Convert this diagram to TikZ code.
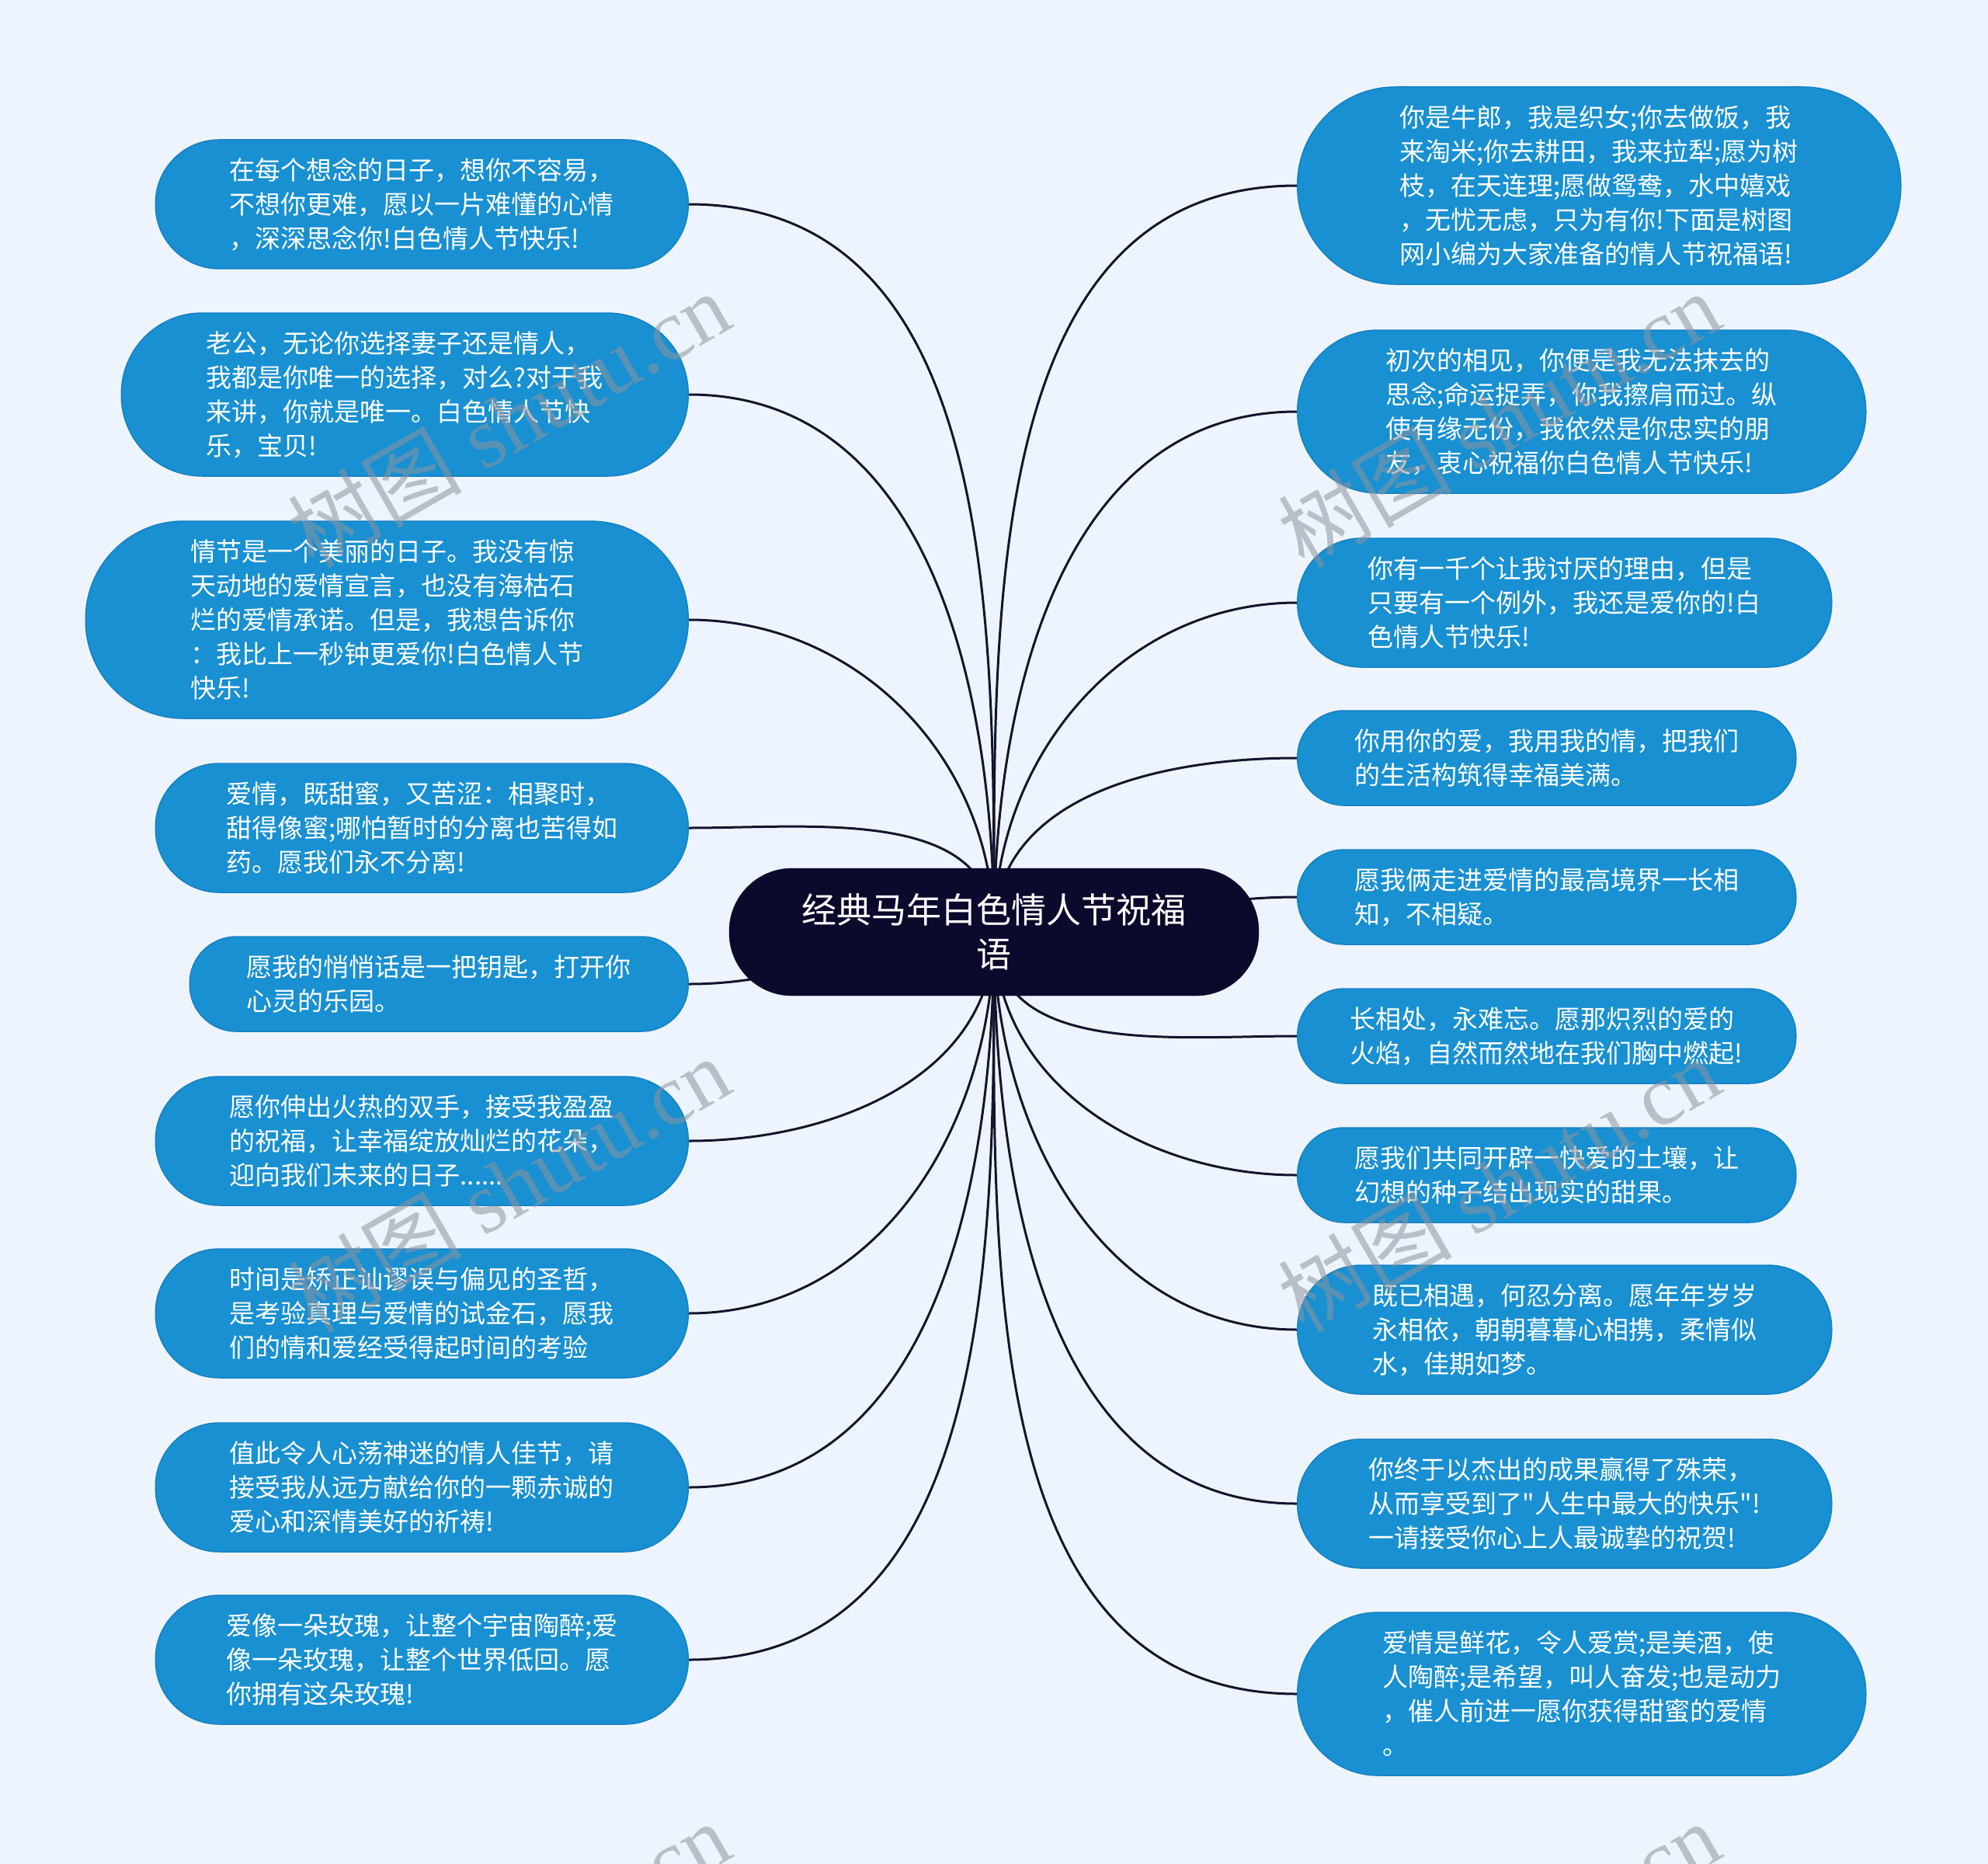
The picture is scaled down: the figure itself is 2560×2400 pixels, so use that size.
\documentclass[tikz,border=0pt]{standalone}
\usepackage{fontspec}
\newfontfamily\cjk{Noto Sans CJK SC}
\newfontfamily\stampserif{Liberation Serif}
\usetikzlibrary{backgrounds}

\definecolor{paper}{HTML}{EEF4FD}
\definecolor{leafblue}{HTML}{1890D2}
\definecolor{leafline}{HTML}{1581C2}
\definecolor{rootnavy}{HTML}{0B0A2C}
\definecolor{wirecol}{HTML}{14142C}
\definecolor{stampgray}{HTML}{8E949E}

\tikzset{
  leaf/.style={rectangle, fill=leafblue, draw=leafline, line width=1.5pt,
    text=white, font=\cjk\fontsize{33}{44}\selectfont, align=left,
    inner xsep=20pt, inner ysep=4pt},
  rows/.style={minimum height={44pt*#1+34pt}, rounded corners={22pt*#1+16pt}},
  root/.style={rectangle, fill=rootnavy, draw=rootnavy, rounded corners=81pt,
    text=white, font=\cjk\fontsize{45}{57}\selectfont, align=center,
    minimum width=682pt, minimum height=164pt, inner sep=0pt},
  link/.style={draw=wirecol, line width=3pt},
  stamp/.style={text=stampgray, text opacity=0.55, rotate=30,
    font=\stampserif\fontsize{112}{112}\selectfont, inner sep=0pt}
}

\begin{document}
\begin{tikzpicture}[x=1pt,y=-1pt]
  \useasboundingbox (0,0) rectangle (2560,2400);
  \begin{scope}[on background layer]
    \fill[paper] (0,0) rectangle (2560,2400);
  \end{scope}

  % central topic
  \coordinate (hub) at (1280,1200);
  \node[root] (root) at (hub) {经典马年白色情人节祝福\\语};

  % left branch
  \node[leaf, rows=3, minimum width=686pt, anchor=east] (l1) at (887,263)
    {在每个想念的日子，想你不容易，\\不想你更难，愿以一片难懂的心情\\，深深思念你!白色情人节快乐!};
  \node[leaf, rows=4, minimum width=730pt, anchor=east] (l2) at (887,508)
    {老公，无论你选择妻子还是情人，\\我都是你唯一的选择，对么?对于我\\来讲，你就是唯一。白色情人节快\\乐，宝贝!};
  \node[leaf, rows=5, minimum width=776pt, anchor=east] (l3) at (887,798)
    {情节是一个美丽的日子。我没有惊\\天动地的爱情宣言，也没有海枯石\\烂的爱情承诺。但是，我想告诉你\\：我比上一秒钟更爱你!白色情人节\\快乐!};
  \node[leaf, rows=3, minimum width=686pt, anchor=east] (l4) at (887,1066)
    {爱情，既甜蜜，又苦涩：相聚时，\\甜得像蜜;哪怕暂时的分离也苦得如\\药。愿我们永不分离!};
  \node[leaf, rows=2, minimum width=642pt, anchor=east] (l5) at (887,1267)
    {愿我的悄悄话是一把钥匙，打开你\\心灵的乐园。};
  \node[leaf, rows=3, minimum width=686pt, anchor=east] (l6) at (887,1469)
    {愿你伸出火热的双手，接受我盈盈\\的祝福，让幸福绽放灿烂的花朵，\\迎向我们未来的日子......};
  \node[leaf, rows=3, minimum width=686pt, anchor=east] (l7) at (887,1691)
    {时间是矫正讪谬误与偏见的圣哲，\\是考验真理与爱情的试金石，愿我\\们的情和爱经受得起时间的考验};
  \node[leaf, rows=3, minimum width=686pt, anchor=east] (l8) at (887,1915)
    {值此令人心荡神迷的情人佳节，请\\接受我从远方献给你的一颗赤诚的\\爱心和深情美好的祈祷!};
  \node[leaf, rows=3, minimum width=686pt, anchor=east] (l9) at (887,2137)
    {爱像一朵玫瑰，让整个宇宙陶醉;爱\\像一朵玫瑰，让整个世界低回。愿\\你拥有这朵玫瑰!};

  % right branch
  \node[leaf, rows=5, minimum width=777pt, anchor=west] (r1) at (1670,239)
    {你是牛郎，我是织女;你去做饭，我\\来淘米;你去耕田，我来拉犁;愿为树\\枝，在天连理;愿做鸳鸯，水中嬉戏\\，无忧无虑，只为有你!下面是树图\\网小编为大家准备的情人节祝福语!};
  \node[leaf, rows=4, minimum width=732pt, anchor=west] (r2) at (1670,530)
    {初次的相见，你便是我无法抹去的\\思念;命运捉弄，你我擦肩而过。纵\\使有缘无份，我依然是你忠实的朋\\友，衷心祝福你白色情人节快乐!};
  \node[leaf, rows=3, minimum width=688pt, anchor=west] (r3) at (1670,776)
    {你有一千个让我讨厌的理由，但是\\只要有一个例外，我还是爱你的!白\\色情人节快乐!};
  \node[leaf, rows=2, minimum width=642pt, anchor=west] (r4) at (1670,976)
    {你用你的爱，我用我的情，把我们\\的生活构筑得幸福美满。};
  \node[leaf, rows=2, minimum width=642pt, anchor=west] (r5) at (1670,1155)
    {愿我俩走进爱情的最高境界一长相\\知，不相疑。};
  \node[leaf, rows=2, minimum width=642pt, anchor=west] (r6) at (1670,1334)
    {长相处，永难忘。愿那炽烈的爱的\\火焰，自然而然地在我们胸中燃起!};
  \node[leaf, rows=2, minimum width=642pt, anchor=west] (r7) at (1670,1513)
    {愿我们共同开辟一快爱的土壤，让\\幻想的种子结出现实的甜果。};
  \node[leaf, rows=3, minimum width=688pt, anchor=west] (r8) at (1670,1712)
    {既已相遇，何忍分离。愿年年岁岁\\永相依，朝朝暮暮心相携，柔情似\\水，佳期如梦。};
  \node[leaf, rows=3, minimum width=688pt, anchor=west] (r9) at (1670,1936)
    {你终于以杰出的成果赢得了殊荣，\\从而享受到了"人生中最大的快乐"!\\一请接受你心上人最诚挚的祝贺!};
  \node[leaf, rows=4, minimum width=732pt, anchor=west] (r10) at (1670,2181)
    {爱情是鲜花，令人爱赏;是美酒，使\\人陶醉;是希望，叫人奋发;也是动力\\，催人前进一愿你获得甜蜜的爱情\\。};

  % connectors behind the bubbles
  \begin{scope}[on background layer]
    \foreach \n in {l1,l2,l3,l4}
      \draw[link] (hub) to[out=90,in=0] (\n.east);
    \foreach \n in {l6,l7,l8,l9}
      \draw[link] (hub) to[out=-90,in=0] (\n.east);
    \draw[link] (hub) to[out=180,in=0] (l5.east);
    \foreach \n in {r1,r2,r3,r4}
      \draw[link] (hub) to[out=90,in=180] (\n.west);
    \foreach \n in {r6,r7,r8,r9,r10}
      \draw[link] (hub) to[out=-90,in=180] (\n.west);
    \draw[link] (hub) to[out=0,in=180] (r5.west);
  \end{scope}

  % watermark
  \begin{scope}
    \clip (0,0) rectangle (2560,2400);
    \foreach \wx in {655,1930}
      \foreach \wy in {540,1525,2510}
        \node[stamp] at (\wx,\wy) {{\cjk 树图} shutu.cn};
  \end{scope}
\end{tikzpicture}
\end{document}
